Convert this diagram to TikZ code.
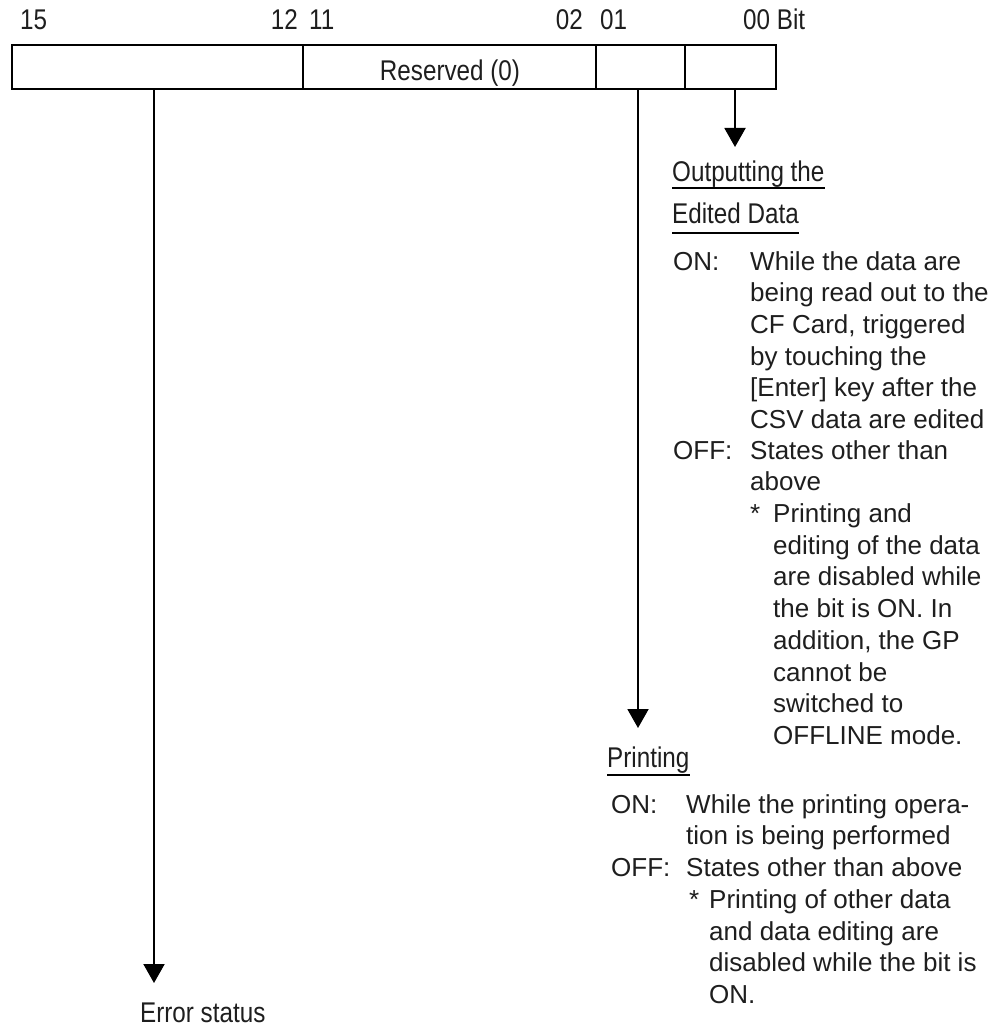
\documentclass[tikz,border=0pt]{standalone}
\usepackage{fontspec}
\setmainfont{Liberation Sans}
\newfontfamily\narrowfont{Liberation Sans}[FakeStretch=0.85]
\usetikzlibrary{arrows.meta}
\definecolor{textgray}{RGB}{30,30,30}
\newcommand{\mlines}[1]{\begin{tabular}[t]{@{}l@{}}#1\end{tabular}}
\tikzset{
  cell/.style={draw, line width=2pt, inner sep=0pt, minimum height=44pt},
  narrowtxt/.style={font=\narrowfont\fontsize{28.5}{33}\selectfont, inner sep=0pt, text=textgray},
  bodytxt/.style={font=\fontsize{26}{31.7}\selectfont, inner sep=0pt, anchor=base west, text=textgray},
  arr/.style={line width=2pt, -{Triangle[width=21pt,length=19pt]}},
  uline/.style={line width=2pt}
}
\begin{document}
\begin{tikzpicture}[x=1pt,y=-1pt]
\useasboundingbox (0,0) rectangle (1005,1030);
% bit numbers
\node[narrowtxt, anchor=base west] (b15) at (20,30) {15};
\node[narrowtxt, anchor=base east] (b12) at (298,30) {12};
\node[narrowtxt, anchor=base west] (b11) at (309,30) {11};
\node[narrowtxt, anchor=base east] (b02) at (583,30) {02};
\node[narrowtxt, anchor=base west] (b01) at (600,30) {01};
\node[narrowtxt, anchor=base west] (b00) at (743,30) {00 Bit};
% register cells
\node[cell, minimum width=291pt] (c1) at (157.5,67) {};
\node[cell, minimum width=293pt] (c2) at (449.5,67) {};
\node[cell, minimum width=89pt] (c3) at (640.5,67) {};
\node[cell, minimum width=91pt] (c4) at (730.5,67) {};
\node[narrowtxt, anchor=base] (res) at (450,81) {Reserved (0)};
% arrow end points
\coordinate (errtip) at (154,983);
\coordinate (prtip) at (638,728);
\coordinate (outtip) at (735,147);
\draw[arr] (c1.south -| errtip) -- (errtip);
\draw[arr] (c3.south -| prtip) -- (prtip);
\draw[arr] (c4.south -| outtip) -- (outtip);
% Error status
\node[narrowtxt, anchor=base west] (err) at (140,1022) {Error status};
% Outputting the Edited Data
\node[narrowtxt, anchor=base west] (oh1) at (672,181) {Outputting the};
\node[narrowtxt, anchor=base west] (oh2) at (672,223) {Edited Data};
\draw[uline] ([yshift=-7pt]oh1.base west) -- ([yshift=-7pt]oh1.base east);
\draw[uline] ([yshift=-10pt]oh2.base west) -- ([yshift=-10pt]oh2.base east);
\node[bodytxt] (oonl) at (673,270) {ON:};
\node[bodytxt] (oont) at (750,270) {\mlines{While the data are\\being read out to the\\CF Card, triggered\\by touching the\\{[}Enter{]} key after the\\CSV data are edited}};
\node[bodytxt] (ooffl) at (673,459) {OFF:};
\node[bodytxt] (oofft) at (750,459) {\mlines{States other than\\above}};
\node[bodytxt] (ostar) at (750,522.5) {*};
\node[bodytxt] (ostart) at (773,522.5) {\mlines{Printing and\\editing of the data\\are disabled while\\the bit is ON. In\\addition, the GP\\cannot be\\switched to\\OFFLINE mode.}};
% Printing
\node[narrowtxt, anchor=base west] (ph) at (607,767) {Printing};
\draw[uline] ([yshift=-8pt]ph.base west) -- ([yshift=-8pt]ph.base east);
\node[bodytxt] (ponl) at (611,813) {ON:};
\node[bodytxt] (pont) at (686,813) {\mlines{While the printing opera-\\tion is being performed}};
\node[bodytxt] (poffl) at (611,876.5) {OFF:};
\node[bodytxt] (pofft) at (686,876.5) {States other than above};
\node[bodytxt] (pstar) at (689,908.3) {*};
\node[bodytxt] (pstart) at (709,908.3) {\mlines{Printing of other data\\and data editing are\\disabled while the bit is\\ON.}};
\end{tikzpicture}
\end{document}
